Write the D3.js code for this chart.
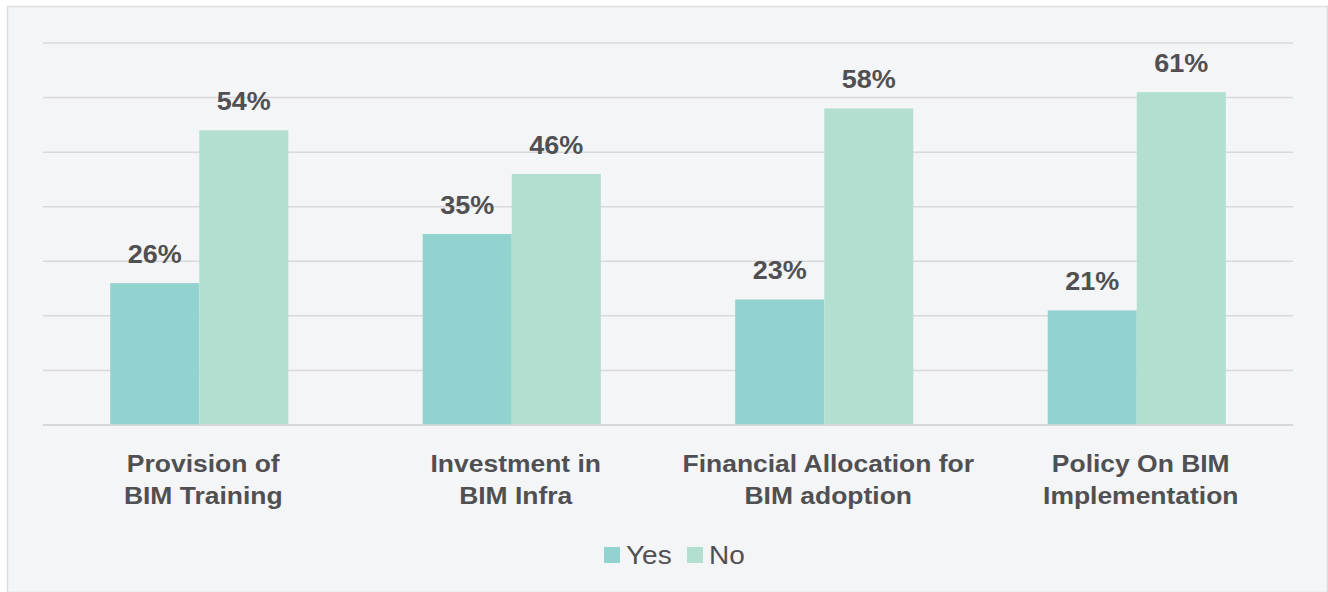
<!DOCTYPE html>
<html>
<head>
<meta charset="utf-8">
<script src="https://cdn.jsdelivr.net/npm/d3@7"></script>
<style>
  html, body { margin: 0; padding: 0; background: #ffffff; }
  svg { display: block; font-family: "Liberation Sans", Arial, Helvetica, sans-serif; }
</style>
</head>
<body>
<svg id="chart" width="1328" height="592"></svg>
<script>
// Survey results: share of respondents answering Yes / No per item
const categories = [
  ["Provision of", "BIM Training"],
  ["Investment in", "BIM Infra"],
  ["Financial Allocation for", "BIM adoption"],
  ["Policy On BIM", "Implementation"]
];
const seriesNames = ["Yes", "No"];
const yesValues = [26, 35, 23, 21];
const noValues = [54, 46, 58, 61];
const gridTicks = [0, 10, 20, 30, 40, 50, 60, 70];

const colors = { Yes: "#93d3cf", No: "#b3dfd1" };
const textColor = "#505052";
const stretch = 1.08; // wide letterforms

const svg = d3.select("#chart");
const W = 1328, H = 592;

// panel background with light frame
svg.append("rect")
  .attr("x", 7.5).attr("y", 6.5)
  .attr("width", W - 8).attr("height", H - 6)
  .attr("fill", "#f4f5f7")
  .attr("stroke", "#dcdde0").attr("stroke-width", 1.5);

const plot = { left: 43, right: 1293, top: 43, bottom: 425 };

const x0 = d3.scaleBand()
  .domain(d3.range(categories.length))
  .range([plot.left, plot.right])
  .paddingInner(0.43).paddingOuter(0.215);

const x1 = d3.scaleBand()
  .domain(seriesNames)
  .range([0, x0.bandwidth()]);

const y = d3.scaleLinear().domain([0, 70]).range([plot.bottom, plot.top]);

// horizontal gridlines
svg.append("g").selectAll("line")
  .data(gridTicks)
  .join("line")
  .attr("x1", plot.left).attr("x2", plot.right)
  .attr("y1", d => y(d)).attr("y2", d => y(d))
  .attr("stroke", "#d9d9db").attr("stroke-width", 1.5);

const rows = categories.map((c, i) => ({
  i,
  values: [
    { key: "Yes", value: yesValues[i] },
    { key: "No", value: noValues[i] }
  ]
}));

const groups = svg.append("g").selectAll("g")
  .data(rows)
  .join("g")
  .attr("transform", d => `translate(${x0(d.i)},0)`);

groups.selectAll("rect")
  .data(d => d.values)
  .join("rect")
  .attr("x", d => x1(d.key))
  .attr("y", d => y(d.value))
  .attr("width", x1.bandwidth())
  .attr("height", d => y(0) - y(d.value))
  .attr("fill", d => colors[d.key]);

// value labels above bars
groups.selectAll("text.val")
  .data(d => d.values)
  .join("text")
  .attr("class", "val")
  .attr("transform", d =>
    `translate(${x1(d.key) + x1.bandwidth() / 2},${y(d.value) - 20}) scale(${stretch},1)`)
  .attr("text-anchor", "middle")
  .attr("font-size", 25)
  .attr("font-weight", "bold")
  .attr("fill", textColor)
  .text(d => d.value + "%");

// baseline
svg.append("line")
  .attr("x1", plot.left).attr("x2", plot.right)
  .attr("y1", y(0)).attr("y2", y(0))
  .attr("stroke", "#d6d6d8").attr("stroke-width", 1.5);

// category labels (two lines each), nudged slightly right of the band centre
const catLabels = svg.append("g").selectAll("text")
  .data(categories)
  .join("text")
  .attr("transform", (d, i) =>
    `translate(${x0(i) + x0.bandwidth() / 2 + 4},472) scale(${stretch},1)`)
  .attr("text-anchor", "middle")
  .attr("font-size", 24.5)
  .attr("font-weight", "bold")
  .attr("fill", textColor);

catLabels.selectAll("tspan")
  .data(d => d.map((line, j) => ({ line, j })))
  .join("tspan")
  .attr("x", 0)
  .attr("y", d => d.j * 32)
  .text(d => d.line);

// legend
const legend = svg.append("g");
const legendItems = [
  { key: "Yes", x: 604 },
  { key: "No", x: 687 }
];
legendItems.forEach(item => {
  legend.append("rect")
    .attr("x", item.x).attr("y", 547)
    .attr("width", 16).attr("height", 16)
    .attr("fill", colors[item.key]);
  legend.append("text")
    .attr("transform", `translate(${item.x + 22},564) scale(1.12,1)`)
    .attr("font-size", 25)
    .attr("fill", textColor)
    .text(item.key);
});
</script>
</body>
</html>
